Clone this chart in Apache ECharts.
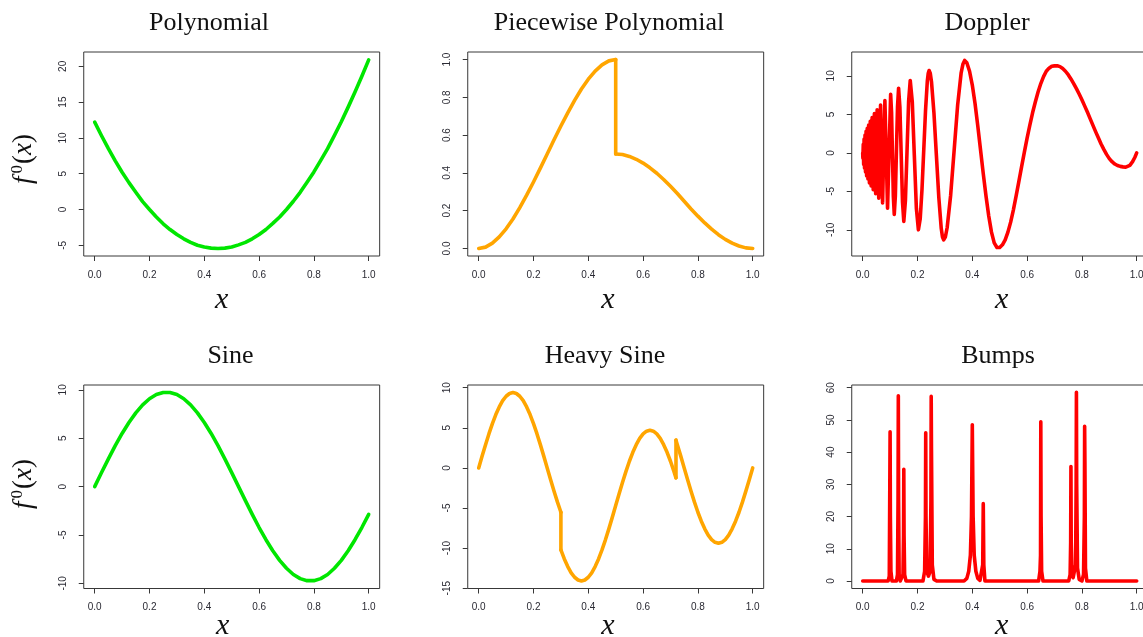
<!DOCTYPE html>
<html>
<head>
<meta charset="utf-8">
<script src="https://cdn.jsdelivr.net/npm/echarts@6/dist/echarts.min.js"></script>
<style>
  html, body { margin: 0; padding: 0; background: #fff; }
  #chart { width: 1143px; height: 637px; }
</style>
</head>
<body>
<div id="chart"></div>
<script>
// ---- panel titles and tick labels ----
const panelTitles = ['Polynomial', 'Piecewise Polynomial', 'Doppler', 'Sine', 'Heavy Sine', 'Bumps'];
const xTicks = [0, 0.2, 0.4, 0.6, 0.8, 1.0];
const polyTicks = [-5, 0, 5, 10, 15, 20];
const piecewiseTicks = [0, 0.2, 0.4, 0.6, 0.8, 1.0];
const dopplerTicks = [-10, -5, 0, 5, 10];
const sineTicks = [-10, -5, 0, 5, 10];
const heavySineTicks = [-15, -10, -5, 0, 5, 10];
const bumpsTicks = [0, 10, 20, 30, 40, 50, 60];

// ---- curves: [x, f(x)] ----
const polynomial = [
  [0, 12.2], [0.025, 10.3], [0.05, 8.5], [0.075, 6.8], [0.1, 5.2], [0.125, 3.75], [0.15, 2.4],
  [0.175, 1.1], [0.2, 0.0], [0.225, -1.05], [0.25, -2.0], [0.275, -2.8], [0.3, -3.5],
  [0.325, -4.1], [0.35, -4.6], [0.375, -5.0], [0.4, -5.25], [0.425, -5.4], [0.45, -5.46],
  [0.475, -5.4], [0.5, -5.25], [0.525, -4.95], [0.55, -4.6], [0.575, -4.1], [0.6, -3.5],
  [0.625, -2.8], [0.65, -1.95], [0.675, -1.05], [0.7, 0.0], [0.725, 1.15], [0.75, 2.4],
  [0.775, 3.8], [0.8, 5.25], [0.825, 6.85], [0.85, 8.5], [0.875, 10.35], [0.9, 12.25],
  [0.925, 14.3], [0.95, 16.4], [0.975, 18.6], [1.0, 20.9]
];

const piecewiseLeft = [
  [0, 0], [0.025, 0.007], [0.05, 0.028], [0.075, 0.061], [0.1, 0.104], [0.125, 0.156],
  [0.15, 0.216], [0.175, 0.282], [0.2, 0.352], [0.225, 0.425], [0.25, 0.5], [0.275, 0.575],
  [0.3, 0.648], [0.325, 0.718], [0.35, 0.784], [0.375, 0.844], [0.4, 0.896], [0.425, 0.939],
  [0.45, 0.972], [0.475, 0.993], [0.5, 1.0]
];
const piecewiseJump = [[0.5, 1.0], [0.5, 0.5]];
const piecewiseRight = [
  [0.5, 0.5], [0.525, 0.497], [0.55, 0.487], [0.575, 0.472], [0.6, 0.452], [0.625, 0.427],
  [0.65, 0.398], [0.675, 0.365], [0.7, 0.329], [0.725, 0.291], [0.75, 0.25], [0.775, 0.209],
  [0.8, 0.171], [0.825, 0.135], [0.85, 0.102], [0.875, 0.073], [0.9, 0.048], [0.925, 0.028],
  [0.95, 0.013], [0.975, 0.003], [1.0, 0]
];

const doppler = [
  // tightly packed swings next to x = 0
  [0, 0], [0.0007, -0.7], [0.0021, 1.1], [0.0035, -1.5], [0.0051, 1.8], [0.0067, -2.0],
  [0.0085, 2.3], [0.0103, -2.5], [0.0123, 2.8], [0.0144, -3.0], [0.0167, 3.2], [0.0191, -3.4],
  [0.0217, 3.6], [0.0245, -3.9], [0.0276, 4.1], [0.0309, -4.3], [0.0344, 4.6], [0.0384, -4.8],
  [0.0427, 5.1], [0.0474, -5.3], [0.0527, 5.6], [0.0586, -5.9], [0.0652, 6.2], [0.0726, -6.5],
  [0.081, 6.8], [0.0907, -7.2],
  // wider swings
  [0.102, 7.6], [0.1053, 5.3], [0.1086, -0.2], [0.1119, -5.7],
  [0.1152, -8.0], [0.1192, -5.6], [0.1231, 0.2], [0.1271, 6.0],
  [0.131, 8.4], [0.1358, 5.9], [0.1405, -0.25], [0.1453, -6.4],
  [0.150, -8.9], [0.1559, -6.2], [0.1618, 0.25], [0.1676, 6.7],
  [0.1735, 9.4], [0.181, 6.6], [0.1884, -0.3], [0.1959, -7.2],
  [0.2033, -10.0], [0.2098, -8.6], [0.2163, -4.8], [0.2228, 0.35], [0.2293, 5.5], [0.2358, 9.3],
  [0.2392, 10.35], [0.2423, 10.7], [0.2466, 10.35], [0.2512, 9.2], [0.26, 5.2], [0.2689, -0.3],
  [0.2778, -5.8], [0.2866, -9.8], [0.291, -10.9],
  [0.2955, -11.3], [0.3019, -10.9], [0.3083, -9.7], [0.321, -5.5], [0.3338, 0.35], [0.3465, 6.2],
  [0.3593, 10.4], [0.366, 11.55],
  // the last one and a half waves
  [0.372, 12.0], [0.38, 11.7], [0.39, 10.6], [0.40, 8.8], [0.41, 6.4], [0.42, 3.5], [0.43, 0.4],
  [0.44, -2.7], [0.45, -5.6], [0.46, -8.2], [0.47, -10.3], [0.48, -11.7], [0.49, -12.3],
  [0.493, -12.4], [0.50, -12.3], [0.51, -11.95], [0.52, -11.3], [0.53, -10.3], [0.54, -9.0],
  [0.55, -7.4], [0.56, -5.6], [0.57, -3.7], [0.58, -1.8], [0.59, 0.1], [0.60, 1.9],
  [0.61, 3.6], [0.62, 5.2], [0.63, 6.6], [0.64, 7.9], [0.65, 9.0], [0.66, 9.9], [0.67, 10.6],
  [0.68, 11.0], [0.69, 11.25], [0.70, 11.3], [0.71, 11.3], [0.72, 11.2], [0.73, 10.95],
  [0.74, 10.6], [0.75, 10.15], [0.76, 9.6], [0.77, 9.0], [0.78, 8.35], [0.79, 7.65],
  [0.80, 6.9], [0.81, 6.1], [0.82, 5.3], [0.83, 4.45], [0.84, 3.6], [0.85, 2.75], [0.86, 1.95],
  [0.87, 1.15], [0.88, 0.45], [0.89, -0.2], [0.90, -0.75], [0.91, -1.15], [0.92, -1.45],
  [0.93, -1.65], [0.94, -1.76], [0.95, -1.82], [0.96, -1.85], [0.967, -1.8], [0.975, -1.62],
  [0.985, -1.15], [0.993, -0.6], [1.0, 0]
];

const sine = [
  [0, 0], [0.025, 1.45], [0.05, 2.87], [0.075, 4.23], [0.1, 5.49], [0.125, 6.63], [0.15, 7.62],
  [0.175, 8.44], [0.2, 9.08], [0.225, 9.51], [0.25, 9.72], [0.275, 9.72], [0.3, 9.51],
  [0.325, 9.08], [0.35, 8.44], [0.375, 7.62], [0.4, 6.63], [0.425, 5.49], [0.45, 4.23],
  [0.475, 2.87], [0.5, 1.45], [0.525, 0], [0.55, -1.45], [0.575, -2.87], [0.6, -4.23],
  [0.625, -5.49], [0.65, -6.63], [0.675, -7.62], [0.7, -8.44], [0.725, -9.08], [0.75, -9.51],
  [0.775, -9.72], [0.8, -9.72], [0.825, -9.51], [0.85, -9.08], [0.875, -8.44], [0.9, -7.62],
  [0.925, -6.63], [0.95, -5.49], [0.975, -4.23], [1.0, -2.87]
];

const heavySineA = [
  [0, 0], [0.0125, 1.47], [0.025, 2.90], [0.0375, 4.27], [0.05, 5.53], [0.0625, 6.65],
  [0.075, 7.60], [0.0875, 8.38], [0.1, 8.94], [0.1125, 9.28], [0.125, 9.40], [0.1375, 9.28],
  [0.15, 8.94], [0.1625, 8.38], [0.175, 7.60], [0.1875, 6.65], [0.2, 5.53], [0.2125, 4.27],
  [0.225, 2.90], [0.2375, 1.47], [0.25, 0], [0.2625, -1.47], [0.275, -2.90], [0.2875, -4.27],
  [0.3, -5.53]
];
const heavySineJump1 = [[0.3, -5.53], [0.3, -10.23]];
const heavySineB = [
  [0.3, -10.23], [0.3125, -11.35], [0.325, -12.30], [0.3375, -13.08], [0.35, -13.64],
  [0.3625, -13.98], [0.375, -14.10], [0.3875, -13.98], [0.4, -13.64], [0.4125, -13.08],
  [0.425, -12.30], [0.4375, -11.35], [0.45, -10.23], [0.4625, -8.97], [0.475, -7.60],
  [0.4875, -6.17], [0.5, -4.70], [0.5125, -3.23], [0.525, -1.80], [0.5375, -0.43],
  [0.55, 0.83], [0.5625, 1.95], [0.575, 2.90], [0.5875, 3.68], [0.6, 4.24], [0.6125, 4.58],
  [0.625, 4.70], [0.6375, 4.58], [0.65, 4.24], [0.6625, 3.68], [0.675, 2.90], [0.6875, 1.95],
  [0.7, 0.83], [0.7125, -0.43], [0.72, -1.24]
];
const heavySineJump2 = [[0.72, -1.24], [0.72, 3.46]];
const heavySineC = [
  [0.72, 3.46], [0.725, 2.90], [0.7375, 1.47], [0.75, 0], [0.7625, -1.47], [0.775, -2.90],
  [0.7875, -4.27], [0.8, -5.53], [0.8125, -6.65], [0.825, -7.60], [0.8375, -8.38],
  [0.85, -8.94], [0.8625, -9.28], [0.875, -9.40], [0.8875, -9.28], [0.9, -8.94],
  [0.9125, -8.38], [0.925, -7.60], [0.9375, -6.65], [0.95, -5.53], [0.9625, -4.27],
  [0.975, -2.90], [0.9875, -1.47], [1.0, 0]
];

const bumps = [
  [0, 0],
  [0.093, 0], [0.097, 1.5], [0.099, 31], [0.1, 46.3], [0.101, 20], [0.103, 3], [0.107, 0],
  [0.123, 0], [0.127, 2], [0.129, 25], [0.13, 57.5], [0.131, 25], [0.133, 2], [0.137, 0],
  [0.143, 0], [0.147, 2], [0.149, 14], [0.15, 34.7], [0.151, 14], [0.153, 2], [0.158, 0],
  [0.22, 0], [0.226, 3], [0.229, 20], [0.23, 46], [0.231, 20], [0.234, 3], [0.24, 1.5],
  [0.246, 3], [0.249, 25], [0.25, 57.3], [0.251, 41], [0.254, 5], [0.26, 0.5], [0.27, 0],
  [0.37, 0], [0.38, 0.8], [0.387, 3], [0.393, 8], [0.397, 20], [0.4, 48.5], [0.403, 20],
  [0.407, 8], [0.413, 3], [0.42, 0.8], [0.428, 0.2],
  [0.434, 0], [0.438, 5], [0.44, 24], [0.442, 5], [0.446, 0],
  [0.642, 0], [0.647, 3], [0.649, 8], [0.65, 49.4], [0.651, 20], [0.653, 3], [0.658, 0],
  [0.752, 0], [0.757, 2], [0.759, 12], [0.76, 35.5], [0.761, 12], [0.764, 2], [0.768, 1],
  [0.772, 1], [0.777, 5], [0.779, 30], [0.78, 58.6], [0.781, 30], [0.784, 4], [0.79, 0.5],
  [0.8, 0], [0.806, 2], [0.809, 20], [0.81, 48], [0.811, 37], [0.813, 4], [0.818, 0],
  [1.0, 0]
];

// ---- colours ----
const GREEN = '#00e600';
const ORANGE = '#ffa500';
const RED = '#ff0000';

// ---- layout of the 2 x 3 panels ----
const X_PX = 274;                      // pixels per unit of x
const colZero = [94.7, 478.7, 862.7];  // pixel position of x = 0 in each column
const rowTop = [52, 385];
const rowHeight = [204, 203.5];
const X_MIN = -0.04, X_MAX = 1.04;

const panels = [
  { row: 0, col: 0, ymin: -6.5, ymax: 22.0, ticks: polyTicks, digits: 0, color: GREEN,
    pieces: [polynomial] },
  { row: 0, col: 1, ymin: -0.04, ymax: 1.04, ticks: piecewiseTicks, digits: 1, color: ORANGE,
    pieces: [piecewiseLeft, piecewiseJump, piecewiseRight] },
  { row: 0, col: 2, ymin: -13.4, ymax: 13.1, ticks: dopplerTicks, digits: 0, color: RED,
    pieces: [doppler] },
  { row: 1, col: 0, ymin: -10.53, ymax: 10.5, ticks: sineTicks, digits: 0, color: GREEN,
    pieces: [sine] },
  { row: 1, col: 1, ymin: -15.04, ymax: 10.34, ticks: heavySineTicks, digits: 0, color: ORANGE,
    pieces: [heavySineA, heavySineJump1, heavySineB, heavySineJump2, heavySineC] },
  { row: 1, col: 2, ymin: -2.34, ymax: 60.84, ticks: bumpsTicks, digits: 0, color: RED,
    pieces: [bumps] }
];

const TICK_FONT = { fontFamily: 'Liberation Sans, Arial, sans-serif', fontSize: 10, color: '#2a2a33' };
const FRAME = '#383838';

const grids = [], xAxes = [], yAxes = [], series = [];
panels.forEach((p, i) => {
  grids.push({
    left: colZero[p.col] - 0.04 * X_PX,
    top: rowTop[p.row],
    width: (X_MAX - X_MIN) * X_PX,
    height: rowHeight[p.row],
    show: true, borderColor: FRAME, borderWidth: 1, backgroundColor: 'transparent',
    containLabel: false, outerBoundsMode: 'none'
  });
  xAxes.push({
    type: 'value', gridIndex: i, min: X_MIN, max: X_MAX,
    axisLine: { show: false, onZero: false },
    splitLine: { show: false },
    axisTick: { show: true, length: 5, lineStyle: { color: FRAME, width: 1 }, customValues: xTicks },
    axisLabel: Object.assign({ customValues: xTicks, margin: 14, formatter: v => v.toFixed(1) }, TICK_FONT)
  });
  yAxes.push({
    type: 'value', gridIndex: i, min: p.ymin, max: p.ymax,
    axisLine: { show: false, onZero: false },
    splitLine: { show: false },
    axisTick: { show: true, length: 5, lineStyle: { color: FRAME, width: 1 }, customValues: p.ticks },
    axisLabel: Object.assign({ customValues: p.ticks, margin: 15, rotate: 90,
      formatter: v => v.toFixed(p.digits) }, TICK_FONT)
  });
  p.pieces.forEach(piece => {
    series.push({
      type: 'line', xAxisIndex: i, yAxisIndex: i,
      data: piece, smooth: false, showSymbol: false, symbol: 'none',
      silent: true, clip: true,
      lineStyle: { color: p.color, width: 3.6, cap: 'round', join: 'round' },
      itemStyle: { color: p.color }
    });
  });
});

// ---- titles and axis captions ----
const titlePos = [[209, 23], [609, 23], [987, 23], [230.5, 356], [605, 356], [998, 356]];
const xCaptionPos = [[221.7, 300], [608, 300], [1001.7, 300], [222.7, 626], [608, 626], [1001.7, 626]];
const yCaptionPos = [[24, 159], [24, 484]];

const SERIF = 'Liberation Serif, Times New Roman, serif';
const graphics = [];
panelTitles.forEach((t, i) => {
  graphics.push({
    type: 'text', x: titlePos[i][0], y: titlePos[i][1], silent: true,
    style: { text: t, fontFamily: SERIF, fontSize: 26, fill: '#111',
             align: 'center', verticalAlign: 'middle', textAlign: 'center', textVerticalAlign: 'middle' }
  });
});
xCaptionPos.forEach(pos => {
  graphics.push({
    type: 'text', x: pos[0], y: pos[1], silent: true,
    style: { text: 'x', fontFamily: SERIF, fontStyle: 'italic', fontSize: 30, fill: '#111',
             align: 'center', verticalAlign: 'middle', textAlign: 'center', textVerticalAlign: 'middle' }
  });
});
yCaptionPos.forEach(pos => {
  graphics.push({
    type: 'text', x: pos[0], y: pos[1], rotation: Math.PI / 2, silent: true,
    style: {
      text: '{i|f}{s|0}{u|(}{i|x}{u|)}',
      fontFamily: SERIF, fontSize: 26, fill: '#111',
      align: 'center', verticalAlign: 'middle', textAlign: 'center', textVerticalAlign: 'middle',
      rich: {
        i: { fontFamily: SERIF, fontStyle: 'italic', fontSize: 27, lineHeight: 30, fill: '#111', color: '#111' },
        u: { fontFamily: SERIF, fontSize: 27, lineHeight: 30, fill: '#111', color: '#111' },
        s: { fontFamily: SERIF, fontSize: 17, lineHeight: 17, verticalAlign: 'top', fill: '#111', color: '#111', padding: [0, 1, 0, 3] }
      }
    }
  });
});

const chart = echarts.init(document.getElementById('chart'), null, { renderer: 'canvas' });
chart.setOption({
  animation: false,
  backgroundColor: '#fff',
  grid: grids,
  xAxis: xAxes,
  yAxis: yAxes,
  series: series,
  graphic: { elements: graphics }
});
</script>
</body>
</html>
